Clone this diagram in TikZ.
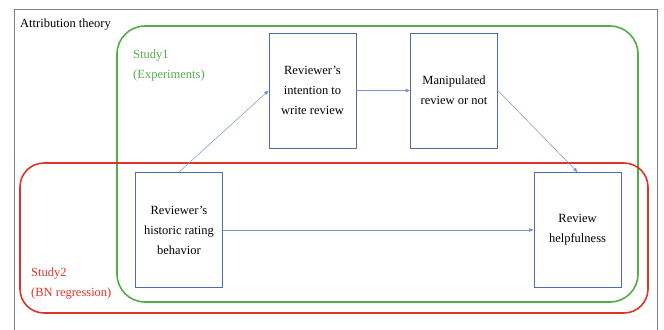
\documentclass[tikz,border=0pt]{standalone}
\usepackage{fontspec}
\setmainfont{Liberation Serif}
\usetikzlibrary{arrows.meta}
\definecolor{grn}{RGB}{84,172,72}
\definecolor{rd}{RGB}{222,52,40}
\definecolor{boxc}{RGB}{82,108,168}
\definecolor{arr}{RGB}{120,150,205}
\definecolor{frm}{RGB}{130,130,130}
\tikzset{
  x=1bp, y=-1bp,
  every node/.style={font=\fontsize{12.5bp}{20bp}\selectfont},
  var/.style={draw=boxc, line width=0.8pt, align=center, minimum width=87bp, minimum height=115bp, inner sep=0pt},
  link/.style={draw=arr, line width=0.5pt, -{Triangle[length=4.5pt,width=3.5pt]}},
  lbl/.style={anchor=north west, align=left, inner sep=0pt}
}
\begin{document}
\begin{tikzpicture}
\useasboundingbox (0,0) rectangle (664,329);
\fill[white] (0,0) rectangle (664,329);
% frame
\draw[frm, line width=1pt] (14,330) -- (14,9) -- (657,9) -- (657,330);
% study regions
\draw[grn, line width=1.6pt, rounded corners=28bp] (117,26) rectangle (638,302);
\draw[rd, line width=1.6pt, rounded corners=24bp] (20,163) rectangle (648,313);
% labels
\node[lbl] (att) at (20,19) {Attribution theory};
\node[lbl, text=grn] (s1) at (133,50) {Study1\\(Experiments)};
\node[lbl, text=rd] (s2) at (31,268) {Study2\\(BN regression)};
% variables
\node[var] (int) at (312.5,90.5) {Reviewer’s\\intention to\\write review};
\node[var] (man) at (454,90.5) {Manipulated\\review or not};
\node[var] (hist) at (179,230) {Reviewer’s\\historic rating\\behavior};
\node[var] (help) at (577.5,230) {Review\\helpfulness};
% links
\draw[link] (hist.north) -- (int.west);
\draw[link] (int.east) -- (man.west);
\draw[link] (man.east) -- (help.north);
\draw[link] (hist.east) -- (help.west);
\end{tikzpicture}
\end{document}
